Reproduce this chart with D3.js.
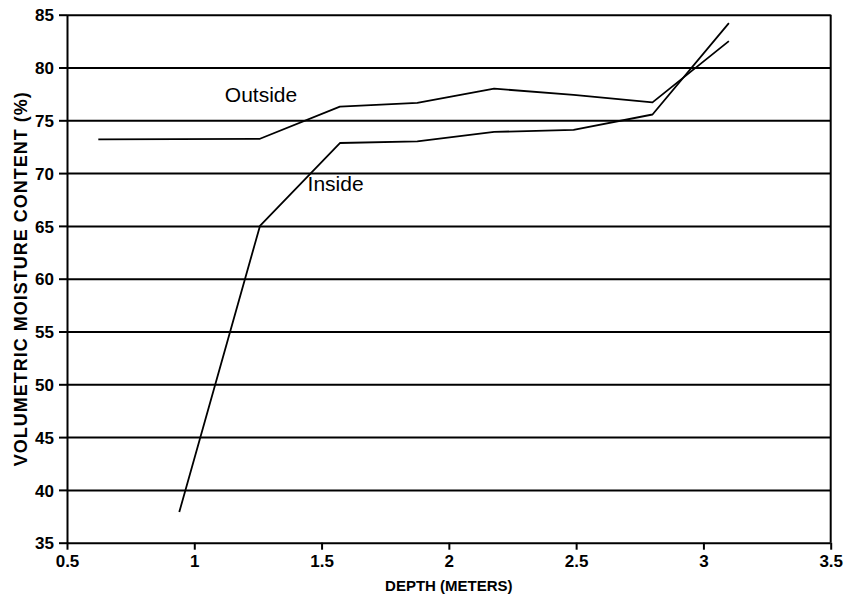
<!DOCTYPE html>
<html>
<head>
<meta charset="utf-8">
<script src="https://cdn.jsdelivr.net/npm/d3@7"></script>
<style>
  html, body { margin: 0; padding: 0; background: #fff; }
  svg { display: block; }
  text { font-family: "Liberation Sans", Arial, sans-serif; fill: #000; }
</style>
</head>
<body>
<svg id="chart" width="845" height="597"></svg>
<script>
// Depth (m) of each reading
const depthOutside = [0.623, 1.258, 1.572, 1.876, 2.178, 2.49, 2.80, 3.10];
const moistureOutside = [73.2, 73.25, 76.3, 76.65, 78.0, 77.4, 76.7, 82.5];
const depthInside = [0.941, 1.258, 1.572, 1.876, 2.178, 2.49, 2.80, 3.10];
const moistureInside = [37.9, 65.0, 72.85, 73.0, 73.9, 74.1, 75.55, 84.2];

const xTicks = [0.5, 1, 1.5, 2, 2.5, 3, 3.5];
const yTicks = [35, 40, 45, 50, 55, 60, 65, 70, 75, 80, 85];

const seriesLabels = [
  { text: "Outside", x: 1.12, y: 76.75 },
  { text: "Inside", x: 1.445, y: 68.35 }
];

const margin = { left: 67, right: 14.3, top: 14.7, bottom: 54.3 };
const W = 845, H = 597;

const svg = d3.select("#chart");

const x = d3.scaleLinear().domain([0.5, 3.5]).range([margin.left, W - margin.right]);
const y = d3.scaleLinear().domain([35, 85]).range([H - margin.bottom, margin.top]);

// Horizontal grid lines, each extending left as a tick
svg.append("g")
  .attr("transform", `translate(${margin.left},0)`)
  .call(d3.axisLeft(y).tickValues(yTicks).tickSize(8)
    .tickSizeOuter(0).tickFormat(d3.format("d")).tickPadding(5))
  .call(g => g.select(".domain").attr("stroke", "#000").attr("stroke-width", 2))
  .call(g => g.selectAll(".tick line").attr("stroke", "#000").attr("stroke-width", 2))
  .call(g => g.selectAll(".tick").append("line")
    .attr("x1", 0).attr("x2", x(3.5) - margin.left)
    .attr("stroke", "#000").attr("stroke-width", 2))
  .call(g => g.selectAll(".tick text")
    .style("font-size", "17px").style("font-weight", "bold").attr("dy", "0.36em"));

// Bottom axis ticks
svg.append("g")
  .attr("transform", `translate(0,${y(35)})`)
  .call(d3.axisBottom(x).tickValues(xTicks).tickSize(7).tickSizeOuter(0)
    .tickFormat(d3.format("")).tickPadding(5))
  .call(g => g.select(".domain").remove())
  .call(g => g.selectAll(".tick line").attr("stroke", "#000").attr("stroke-width", 2))
  .call(g => g.selectAll(".tick text")
    .style("font-size", "17px").style("font-weight", "bold").attr("dy", "0.75em"));

// Right border
svg.append("line")
  .attr("x1", x(3.5)).attr("x2", x(3.5))
  .attr("y1", y(85)).attr("y2", y(35))
  .attr("stroke", "#000").attr("stroke-width", 2);

// Data lines
const line = d3.line().x(d => x(d[0])).y(d => y(d[1]));
const outside = depthOutside.map((d, i) => [d, moistureOutside[i]]);
const inside = depthInside.map((d, i) => [d, moistureInside[i]]);

[outside, inside].forEach(pts => {
  svg.append("path")
    .datum(pts)
    .attr("d", line)
    .attr("fill", "none")
    .attr("stroke", "#000")
    .attr("stroke-width", 1.8)
    .attr("stroke-linejoin", "round");
});

// Series labels
svg.selectAll(".series-label")
  .data(seriesLabels)
  .enter().append("text")
  .attr("class", "series-label")
  .attr("x", d => x(d.x))
  .attr("y", d => y(d.y))
  .style("font-size", "21px")
  .text(d => d.text);

// Axis titles
svg.append("text")
  .attr("x", (x(0.5) + x(3.5)) / 2)
  .attr("y", 591)
  .attr("text-anchor", "middle")
  .style("font-size", "15px")
  .style("font-weight", "bold")
  .text("DEPTH (METERS)");

svg.append("text")
  .attr("transform", `translate(27,${(y(35) + y(85)) / 2}) rotate(-90)`)
  .attr("text-anchor", "middle")
  .style("font-size", "18px")
  .style("font-weight", "bold")
  .style("letter-spacing", "1px")
  .text("VOLUMETRIC MOISTURE CONTENT (%)");
</script>
</body>
</html>
